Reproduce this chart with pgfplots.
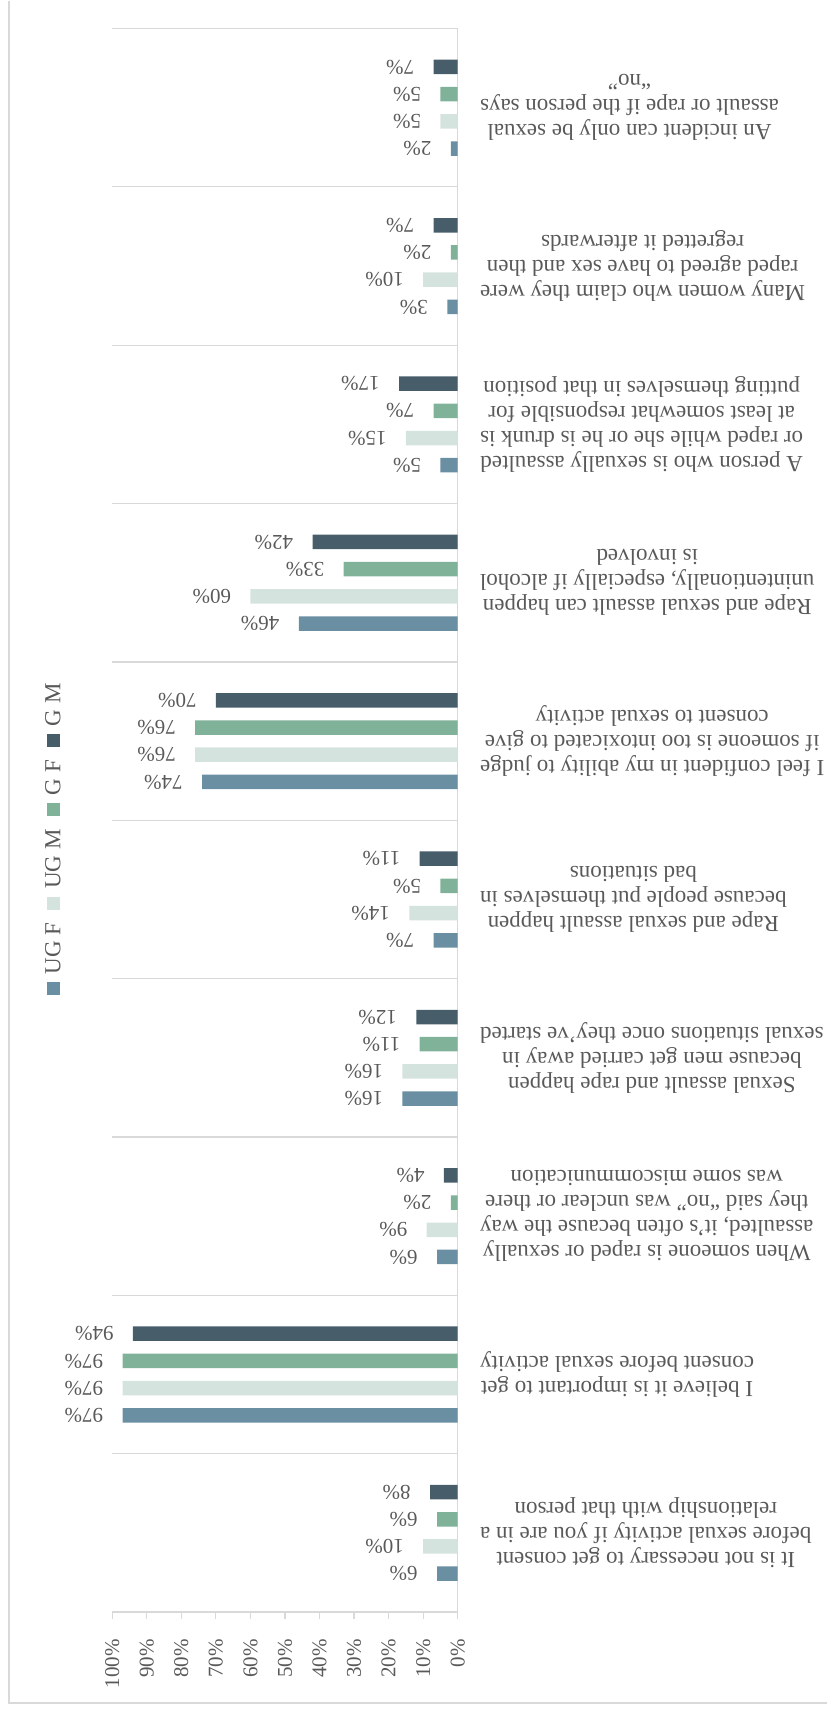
\documentclass[border=0pt]{standalone}
\usepackage{fontspec}
\setmainfont{Liberation Serif}
\usepackage{pgfplots}
\pgfplotsset{compat=1.18}
\usetikzlibrary{calc}
\definecolor{ugf}{HTML}{6A8FA2}
\definecolor{ugm}{HTML}{D5E3DE}
\definecolor{gf}{HTML}{80B29A}
\definecolor{gm}{HTML}{475E6A}
\definecolor{txt}{HTML}{595959}
\definecolor{grd}{HTML}{D9D9D9}
\pgfplotsset{
  mybar/.style={fill=#1, draw=none, legend image code/.code={}},
}
\newcommand{\lgd}[2]{\rotatebox{90}{\textcolor{#1}{\rule{6.5pt}{6.5pt}}\hspace{4pt}#2}}
\begin{document}
\begin{tikzpicture}
\begin{axis}[
  scale only axis, width=172.8pt, height=792pt,
  xbar, bar width=7.25pt,
  x dir=reverse,
  xmin=0, xmax=100, ymin=-0.5, ymax=9.5,
  enlargelimits=false, clip=false,
  axis x line*=bottom, axis y line*=right,
  axis line style={draw=grd, line width=0.75pt},
  /pgf/number format/assume math mode=true,
  xtick={0,10,...,100},
  xticklabel={\pgfmathprintnumber{\tick}\%},
  xticklabel style={font=\fontsize{10.5}{12}\selectfont, text=txt, yshift=-10pt, rotate=90, anchor=east, inner sep=0pt},
  xtick style={draw=grd, line width=0.6pt},
  tick align=outside, major tick length=3.5pt,
  ytick={0,...,9},
  ytick style={draw=none},
  minor ytick={0.5,1.5,...,9.5},
  yminorgrids=true,
  minor grid style={draw=grd, line width=0.6pt},
  minor tick length=0pt,
  yticklabel style={font=\fontsize{11.5}{12.5}\selectfont, text=txt, xshift=7.5pt, rotate=180, anchor=east, align=center, inner sep=0pt},
  yticklabels={
    {It is not necessary to get consent\\before sexual activity if you are in a\\relationship with that person},
    {I believe it is important to get\\consent before sexual activity},
    {When someone is raped or sexually\\assaulted, it’s often because the way\\they said “no” was unclear or there\\was some miscommunication},
    {Sexual assault and rape happen\\because men get carried away in\\sexual situations once they’ve started},
    {Rape and sexual assault happen\\because people put themselves in\\bad situations},
    {I feel confident in my ability to judge\\if someone is too intoxicated to give\\consent to sexual activity},
    {Rape and sexual assault can happen\\unintentionally, especially if alcohol\\is involved},
    {A person who is sexually assaulted\\or raped while she or he is drunk is\\at least somewhat responsible for\\putting themselves in that position},
    {Many women who claim they were\\raped agreed to have sex and then\\regretted it afterwards},
    {An incident can only be sexual\\assault or rape if the person says\\“no”}
  },
  point meta=x,
  nodes near coords={\pgfmathprintnumber{\pgfplotspointmeta}\%},
  every node near coord/.append style={font=\fontsize{10.5}{12}\selectfont, text=txt, xshift=-9.5pt, rotate=180, anchor=west, inner sep=0pt},
  reverse legend,
  legend style={at={(axis description cs:-0.1716,0.487)}, anchor=center, draw=none, fill=none,
    font=\fontsize{11.5}{13}\selectfont, text=txt, row sep=1pt, inner sep=0pt,
    cells={anchor=center, inner sep=0pt}},
]
\addplot[mybar=ugf, bar shift=-20.4pt] coordinates {(6,0) (97,1) (6,2) (16,3) (7,4) (74,5) (46,6) (5,7) (3,8) (2,9)};
\addplot[mybar=ugm, bar shift=-6.8pt] coordinates {(10,0) (97,1) (9,2) (16,3) (14,4) (76,5) (60,6) (15,7) (10,8) (5,9)};
\addplot[mybar=gf, bar shift=6.8pt] coordinates {(6,0) (97,1) (2,2) (11,3) (5,4) (76,5) (33,6) (7,7) (2,8) (5,9)};
\addplot[mybar=gm, bar shift=20.4pt] coordinates {(8,0) (94,1) (4,2) (12,3) (11,4) (70,5) (42,6) (17,7) (7,8) (7,9)};
\legend{\lgd{ugf}{UG F}, \lgd{ugm}{UG M}, \lgd{gf}{G F}, \lgd{gm}{G M}}
\coordinate (SW) at (axis description cs:0,0);
\end{axis}
\draw[draw=grd, line width=0.6pt] ($(SW)+(-51.65pt,806pt)$) -- ($(SW)+(-51.65pt,-45.5pt)$) -- ($(SW)+(357.35pt,-45.5pt)$);
\useasboundingbox ($(SW)+(-56.15pt,-49.5pt)$) rectangle ($(SW)+(357.35pt,806pt)$);
\end{tikzpicture}
\end{document}
